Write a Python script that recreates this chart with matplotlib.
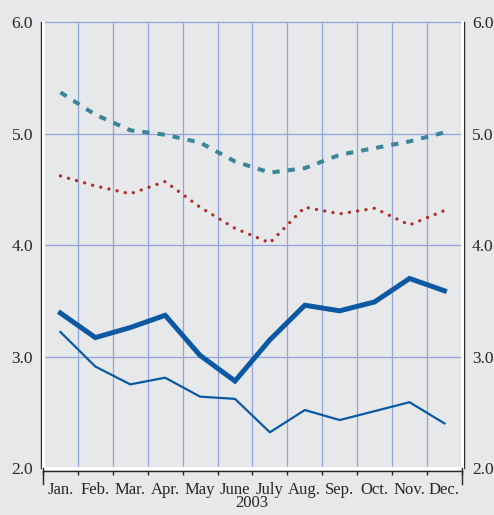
import numpy as np
import matplotlib
matplotlib.use('Agg')
from matplotlib import pyplot as plt

months = ['Jan.', 'Feb.', 'Mar.', 'Apr.', 'May', 'June', 'July', 'Aug.',
          'Sep.', 'Oct.', 'Nov.', 'Dec.']
year = '2003'

# series, one value per month
teal_dashed = [5.37, 5.17, 5.03, 4.99, 4.92, 4.75, 4.65, 4.69, 4.81, 4.87,
               4.93, 5.01]
red_dotted = [4.62, 4.53, 4.46, 4.57, 4.34, 4.15, 4.02, 4.34, 4.28, 4.33,
              4.18, 4.31]
blue_thick = [3.39, 3.17, 3.26, 3.37, 3.01, 2.78, 3.15, 3.46, 3.41, 3.49,
              3.70, 3.59]
blue_thin = [3.22, 2.91, 2.75, 2.81, 2.64, 2.62, 2.32, 2.52, 2.43, 2.51,
             2.59, 2.40]
yticks = [2.0, 3.0, 4.0, 5.0, 6.0]

bg = '#e7e8ea'
grid = '#93a4da'
ink = '#262626'
serif = ['Liberation Serif', 'DejaVu Serif']

fig = plt.figure(figsize=(4.94, 5.15), dpi=100, facecolor=bg)
ax = fig.add_axes([0.087, 0.0913, 0.848, 0.8657], facecolor=bg)

x = np.arange(len(months)) + 0.5
ax.set_xlim(0, 12)
ax.set_ylim(2, 6)

# grid
for b in range(1, 12):
    ax.axvline(b, color=grid, lw=0.9, zorder=1)
for yy in yticks[1:]:
    ax.axhline(yy, color=grid, lw=0.9, zorder=1, clip_on=False)

ax.plot(x, teal_dashed, color='#3a8698', lw=2.9, linestyle=(0, (1.8, 2.0)),
        dash_capstyle='butt', zorder=3)
ax.plot(x, red_dotted, color='#ad2f2a', lw=2.4, linestyle=(0, (0.01, 2.5)),
        dash_capstyle='round', zorder=3)
ax.plot(x, blue_thick, color='#0b58a3', lw=3.6, zorder=3,
        solid_joinstyle='miter')
ax.plot(x, blue_thin, color='#0b58a3', lw=1.6, zorder=3)

# white inner frame lines
ax.axvline(0, color='white', lw=2.2, zorder=4, clip_on=False)
ax.axvline(12, color='white', lw=2.2, zorder=4, clip_on=False)
ax.axhline(2, color='white', lw=2.2, zorder=4, clip_on=False)

ax.spines['top'].set_visible(False)
for s in ['left', 'right', 'bottom']:
    ax.spines[s].set_color(ink)
    ax.spines[s].set_linewidth(1.0)
ax.spines['left'].set_position(('outward', 1.2))
ax.spines['right'].set_position(('outward', 1.2))
ax.spines['bottom'].set_position(('outward', 2.0))

ax.set_yticks(yticks)
ax.set_yticklabels(['%.1f' % v for v in yticks], fontfamily=serif,
                   fontsize=12.5, color=ink)
ax.tick_params(axis='y', length=0, pad=6, left=True, right=True,
               labelleft=True, labelright=True)

ax.set_xticks(range(0, 13))
ax.set_xticklabels([])
ax.tick_params(axis='x', which='major', direction='out', length=3,
               width=1.0, color=ink)
ax.set_xticks(x, minor=True)
ax.set_xticklabels(months, minor=True, fontfamily=serif, fontsize=12,
                   color=ink)
ax.tick_params(axis='x', which='minor', length=0, pad=8)
# longer end ticks
for xe in [0, 12]:
    ax.plot([xe, xe], [0, -0.035], transform=ax.get_xaxis_transform(),
            color=ink, lw=1.0, clip_on=False, zorder=5)

fig.text(0.51, 0.008, year, ha='center', va='bottom', fontfamily=serif,
         fontsize=12, color=ink)

fig.savefig('out.png', dpi=100, facecolor=bg)
